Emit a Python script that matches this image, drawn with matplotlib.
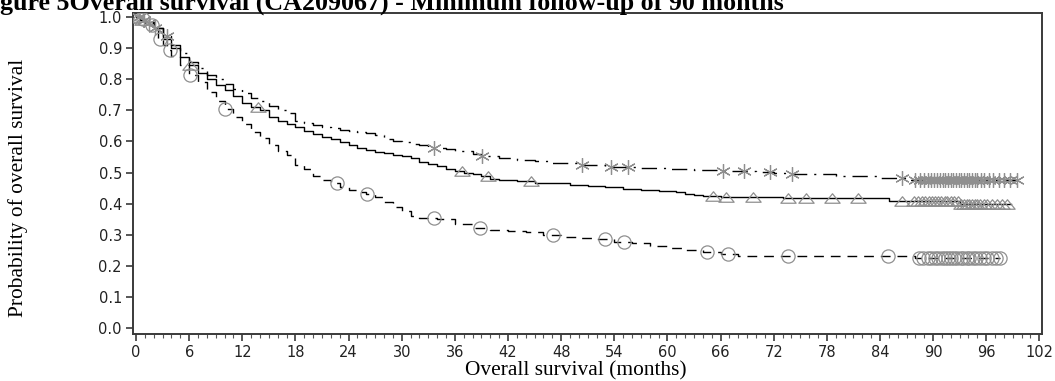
import numpy as np
import matplotlib
matplotlib.use("Agg")
import matplotlib.pyplot as plt
from matplotlib.path import Path
from matplotlib.ticker import MultipleLocator

# ---------------- data ----------------
title = "Figure 5Overall survival (CA209067) - Minimum follow-up of 90 months"
xlabel = "Overall survival (months)"
ylabel = "Probability of overall survival"

# Nivolumab + ipilimumab (dash-dot, star censor marks)
combo_t = [0, 0.5, 1, 2, 3, 4, 5, 6, 7, 8, 9, 10, 11, 12, 13, 14, 15, 16, 17, 18,
           19, 20, 21, 22, 23, 24, 25, 26, 27, 28, 29, 30, 31, 32, 33, 35, 36, 38,
           39, 41, 43, 45, 47, 50, 53, 57, 60, 63, 66, 70, 72, 74, 79, 84, 87, 99.5]
combo_s = [1.0, 0.99, 0.98, 0.965, 0.94, 0.91, 0.885, 0.855, 0.835, 0.815, 0.80,
           0.785, 0.77, 0.755, 0.74, 0.73, 0.715, 0.70, 0.69, 0.665, 0.658, 0.652,
           0.647, 0.643, 0.638, 0.635, 0.632, 0.627, 0.62, 0.608, 0.60, 0.597,
           0.593, 0.588, 0.58, 0.575, 0.568, 0.56, 0.553, 0.548, 0.54, 0.537,
           0.532, 0.525, 0.518, 0.515, 0.512, 0.508, 0.505, 0.502, 0.499, 0.495,
           0.49, 0.482, 0.476, 0.476]
combo_cens = [0.3, 0.9, 1.5, 2.1, 3.5, 33.6, 39.1, 50.4, 53.6, 55.5, 66.3, 68.6,
              71.6, 74.1, 86.5, 88.0, 88.5, 89.0, 89.4, 89.8, 90.1, 90.5, 90.8,
              91.1, 91.4, 91.7, 92.0, 92.3, 92.6, 92.9, 93.2, 93.5, 93.8, 94.1,
              94.4, 94.7, 95.0, 95.4, 95.8, 96.3, 96.8, 97.4, 98.0, 98.7, 99.5]

# Nivolumab (solid, triangle censor marks)
nivo_t = [0, 0.5, 1, 2, 3, 4, 5, 6, 7, 8, 9, 10, 11, 12, 13, 14, 15, 16, 17, 18,
          19, 20, 21, 22, 23, 24, 25, 26, 27, 28, 29, 30, 31, 32, 33, 34, 35, 36,
          37, 38, 39, 40, 41, 43, 45, 47, 49, 51, 53, 55, 57, 59, 61, 62, 63, 64,
          66, 70, 73, 85, 93, 98.8]
nivo_s = [1.0, 0.99, 0.985, 0.965, 0.93, 0.90, 0.87, 0.845, 0.82, 0.80, 0.78,
          0.765, 0.745, 0.725, 0.71, 0.70, 0.68, 0.665, 0.655, 0.645, 0.635,
          0.625, 0.615, 0.607, 0.598, 0.59, 0.58, 0.573, 0.567, 0.562, 0.557,
          0.553, 0.548, 0.535, 0.528, 0.52, 0.512, 0.505, 0.50, 0.495, 0.488,
          0.48, 0.476, 0.472, 0.468, 0.465, 0.46, 0.456, 0.452, 0.448, 0.443,
          0.44, 0.436, 0.432, 0.428, 0.424, 0.422, 0.42, 0.418, 0.41, 0.40, 0.40]
nivo_cens = [0.2, 0.7, 6.1, 13.8, 36.8, 39.7, 44.6, 65.1, 66.6, 69.7, 73.6, 75.6,
             78.6, 81.5, 86.5, 87.9, 88.3, 88.7, 89.1, 89.5, 89.9, 90.2, 90.6,
             90.9, 91.3, 91.6, 92.0, 92.4, 92.8, 93.2, 93.5, 93.8, 94.1, 94.4,
             94.7, 95.0, 95.3, 95.7, 96.1, 96.6, 97.2, 97.8, 98.3]

# Ipilimumab (dashed, circle censor marks)
ipi_t = [0, 0.5, 1, 1.5, 2, 2.5, 3, 3.5, 4, 5, 6, 7, 8, 9, 10, 11, 12, 13, 14, 15,
         16, 17, 18, 19, 20, 21, 22, 23, 24, 25, 26, 27, 28, 29, 30, 31, 32, 34,
         36, 38, 40, 42, 44, 46, 48, 50, 52, 54, 56, 58, 60, 62, 64, 66, 68, 70,
         88, 97.6]
ipi_s = [1.0, 0.995, 0.985, 0.975, 0.96, 0.93, 0.91, 0.895, 0.875, 0.845, 0.815,
         0.79, 0.76, 0.73, 0.705, 0.68, 0.655, 0.63, 0.61, 0.59, 0.57, 0.555,
         0.525, 0.51, 0.49, 0.475, 0.465, 0.455, 0.445, 0.437, 0.43, 0.42, 0.405,
         0.39, 0.375, 0.36, 0.355, 0.35, 0.335, 0.322, 0.315, 0.312, 0.308, 0.30,
         0.294, 0.29, 0.285, 0.278, 0.275, 0.265, 0.258, 0.25, 0.245, 0.238,
         0.232, 0.231, 0.225, 0.225]
ipi_cens = [0.1, 0.8, 1.8, 2.7, 3.8, 6.1, 10.0, 22.7, 26.1, 33.6, 38.8, 47.1,
            52.9, 55.1, 64.5, 66.8, 73.6, 84.9, 88.4, 88.9, 89.4, 89.8, 90.2,
            90.6, 91.0, 91.3, 91.7, 92.0, 92.4, 92.7, 93.1, 93.4, 93.8, 94.1,
            94.5, 94.9, 95.3, 95.7, 96.1, 96.6, 97.1, 97.6]

xticks = [0, 6, 12, 18, 24, 30, 36, 42, 48, 54, 60, 66, 72, 78, 84, 90, 96, 102]
yticks = [0.0, 0.1, 0.2, 0.3, 0.4, 0.5, 0.6, 0.7, 0.8, 0.9, 1.0]

# ---------------- figure ----------------
W, H = 1055, 381
fig = plt.figure(figsize=(W / 100, H / 100), dpi=100)
ax = fig.add_axes([133 / W, 1 - 334 / H, (1042 - 133) / W, (334 - 13) / H])

mark_col = "#8f8f8f"
tri_path = Path([(-1, -0.62), (1, -0.62), (0, 0.62), (-1, -0.62)],
                [Path.MOVETO, Path.LINETO, Path.LINETO, Path.CLOSEPOLY])


def surv_at(times, surv, tc):
    times = np.asarray(times)
    surv = np.asarray(surv)
    idx = np.searchsorted(times, np.asarray(tc), side="right") - 1
    return surv[idx]


series = [
    (combo_t, combo_s, combo_cens, (0, (11, 5, 1.5, 5)), (6, 2, 0), 10.5),
    (nivo_t, nivo_s, nivo_cens, "-", tri_path, 11),
    (ipi_t, ipi_s, ipi_cens, (0, (7, 5)), "o", 9.5),
]

for t, s, c, ls, mk, ms in series:
    ax.plot(t, s, drawstyle="steps-post", color="black", lw=1.0, ls=ls, zorder=3)
    ax.plot(c, surv_at(t, s, c), ls="none", marker=mk, ms=ms, mfc="none",
            mec=mark_col, mew=0.9, zorder=4)

ax.set_xlim(-0.34, 102.3)
ax.set_ylim(-0.019, 1.013)
ax.set_xticks(xticks)
ax.set_yticks(yticks)
ax.set_yticklabels([f"{v:.1f}" for v in yticks])
ax.xaxis.set_minor_locator(MultipleLocator(1))

for sp in ax.spines.values():
    sp.set_color("#3a3a3a")
    sp.set_linewidth(1.4)

ax.tick_params(axis="both", which="major", length=5, width=1.2, color="#3a3a3a",
               labelsize=10.5, labelcolor="#222222", pad=3)
ax.tick_params(axis="x", which="minor", length=3, width=0.8, color="#555555")

serif = ["Liberation Serif", "DejaVu Serif"]
fig.text(576 / W, 1 - 371 / H, xlabel, ha="center", va="center",
         family=serif, fontsize=15.4)
fig.text(18 / W, 1 - 188 / H, ylabel, ha="center", va="center", rotation=90,
         family=serif, fontsize=15.4)

# Title: clipped on the left and top like the reference.
# Size chosen so that "gure ... Minimum" spans ~523 px as in the reference.
fig.canvas.draw()
r = fig.canvas.get_renderer()
probe = fig.text(0, 0, "gure 5Overall survival (CA209067) - Minimum",
                 family=serif, weight="bold", fontsize=10)
w10 = probe.get_window_extent(r).width
probe.remove()
tsize = 10 * 523 / w10
tmp = fig.text(0, 0, "Fi", family=serif, weight="bold", fontsize=tsize)
wfi = tmp.get_window_extent(r).width
tmp.remove()
fig.text(-wfi / W, 1 - 10 / H, title, ha="left", va="baseline",
         family=serif, weight="bold", fontsize=tsize)

fig.savefig("out.png", dpi=100)
